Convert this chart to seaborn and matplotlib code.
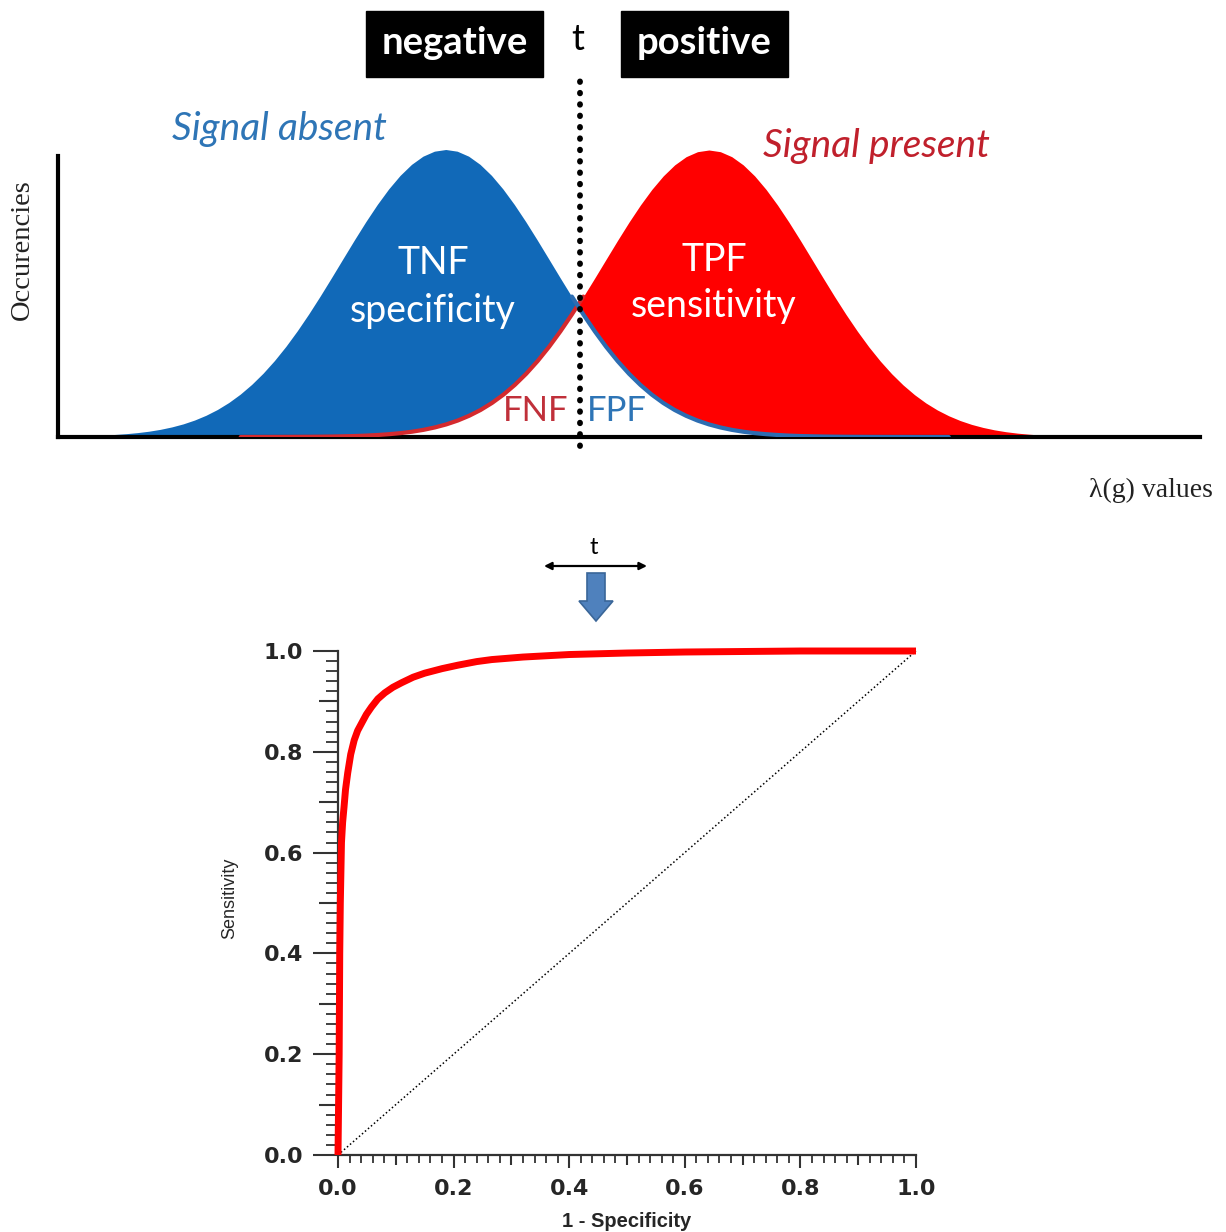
import numpy as np
import pandas as pd
import matplotlib
matplotlib.use("Agg")
import matplotlib.pyplot as plt
from matplotlib.patches import Rectangle, FancyArrow
from matplotlib.ticker import FixedLocator, MultipleLocator
import seaborn as sns

# ---------------- data ----------------
# top panel: occurrence curves over lambda(g) (arbitrary units, 0..10, step 0.1)
lam = np.round(np.arange(0, 10.001, 0.1), 1)
signal_absent = [
    0.0011, 0.0016, 0.0024, 0.0034, 0.0049, 0.0070, 0.0098, 0.0135, 0.0184, 0.0249,
    0.0333, 0.0439, 0.0573, 0.0739, 0.0941, 0.1185, 0.1475, 0.1814, 0.2204, 0.2647,
    0.3141, 0.3685, 0.4271, 0.4893, 0.5539, 0.6197, 0.6852, 0.7487, 0.8084, 0.8627,
    0.9098, 0.9482, 0.9767, 0.9941, 1.0000, 0.9941, 0.9767, 0.9482, 0.9098, 0.8627,
    0.8084, 0.7487, 0.6852, 0.6197, 0.5539, 0.4893, 0.4271, 0.3685, 0.3141, 0.2647,
    0.2204, 0.1814, 0.1475, 0.1185, 0.0941, 0.0739, 0.0573, 0.0439, 0.0333, 0.0249,
    0.0184, 0.0135, 0.0098, 0.0070, 0.0049, 0.0034, 0.0024, 0.0016, 0.0011, 0.0007,
    0.0005, 0.0003, 0.0002, 0.0001, 0.0001, 0.0, 0.0, 0.0, 0.0, 0.0,
    0.0, 0.0, 0.0, 0.0, 0.0, 0.0, 0.0, 0.0, 0.0, 0.0,
    0.0, 0.0, 0.0, 0.0, 0.0, 0.0, 0.0, 0.0, 0.0, 0.0, 0.0]
signal_present = [
    0.0, 0.0, 0.0, 0.0, 0.0, 0.0, 0.0, 0.0, 0.0, 0.0,
    0.0, 0.0, 0.0, 0.0, 0.0, 0.0, 0.0, 0.0001, 0.0001, 0.0002,
    0.0003, 0.0005, 0.0007, 0.0011, 0.0016, 0.0024, 0.0034, 0.0049, 0.0070, 0.0098,
    0.0135, 0.0184, 0.0249, 0.0333, 0.0439, 0.0573, 0.0739, 0.0941, 0.1185, 0.1475,
    0.1814, 0.2204, 0.2647, 0.3141, 0.3685, 0.4271, 0.4893, 0.5539, 0.6197, 0.6852,
    0.7487, 0.8084, 0.8627, 0.9098, 0.9482, 0.9767, 0.9941, 1.0000, 0.9941, 0.9767,
    0.9482, 0.9098, 0.8627, 0.8084, 0.7487, 0.6852, 0.6197, 0.5539, 0.4893, 0.4271,
    0.3685, 0.3141, 0.2647, 0.2204, 0.1814, 0.1475, 0.1185, 0.0941, 0.0739, 0.0573,
    0.0439, 0.0333, 0.0249, 0.0184, 0.0135, 0.0098, 0.0070, 0.0049, 0.0034, 0.0024,
    0.0016, 0.0011, 0.0007, 0.0005, 0.0003, 0.0002, 0.0001, 0.0001, 0.0, 0.0, 0.0]
threshold_t = 4.57

# bottom panel: ROC curve
fpr = [0.0, 0.001, 0.002, 0.003, 0.004, 0.006, 0.008, 0.0104, 0.013, 0.0168, 0.022, 0.028,
       0.034, 0.041, 0.049, 0.058, 0.069, 0.081, 0.095, 0.110, 0.130, 0.150, 0.180, 0.208,
       0.240, 0.266, 0.320, 0.40, 0.50, 0.60, 0.70, 0.80, 1.0]
tpr = [0.0, 0.10, 0.20, 0.40, 0.50, 0.62, 0.66, 0.69, 0.725, 0.758, 0.795, 0.823,
       0.842, 0.857, 0.874, 0.889, 0.905, 0.917, 0.928, 0.937, 0.948, 0.956, 0.965, 0.972,
       0.979, 0.983, 0.988, 0.993, 0.996, 0.998, 0.999, 1.0, 1.0]
chance_x = [0.0, 1.0]
chance_y = [0.0, 1.0]
roc_tick_labels = ["0.0", "", "0.2", "", "0.4", "", "0.6", "", "0.8", "", "1.0"]

# ---------------- style ----------------
sns.set_style("white")
plt.rcParams["font.family"] = ["Lato", "DejaVu Sans"]

W, H = 1226, 1232
fig = plt.figure(figsize=(W / 100, H / 100), dpi=100)

BLUE = "#1169b8"
RED = "#ff0000"
RED_LINE = "#d42a2e"
BLUE_LINE = "#2c6db2"

def fig_rect(x0, y0, x1, y1):
    """pixel box (top-left origin) -> figure fraction rect"""
    return [x0 / W, 1 - y1 / H, (x1 - x0) / W, (y1 - y0) / H]

# ---------------- top panel ----------------
ax1 = fig.add_axes(fig_rect(58, 150, 1200, 437))
df = pd.DataFrame({"lam": lam, "absent": signal_absent, "present": signal_present})
a = df["absent"].to_numpy()
p = df["present"].to_numpy()
ax1.fill_between(df["lam"], p, a, where=a >= p, interpolate=True, color=BLUE, lw=0, zorder=2)
ax1.fill_between(df["lam"], a, p, where=p >= a, interpolate=True, color=RED, lw=0, zorder=2)
left_part = df[(df["lam"] >= 1.6) & (df["lam"] <= 4.6)]
right_part = df[(df["lam"] >= 4.45) & (df["lam"] <= 7.8)]
sns.lineplot(data=left_part, x="lam", y="present", ax=ax1, color=RED_LINE, lw=3, zorder=3)
sns.lineplot(data=right_part, x="lam", y="absent", ax=ax1, color=BLUE_LINE, lw=3, zorder=3)
ax1.plot([threshold_t, threshold_t], [-0.03, 1.25], color="black", lw=4.2,
         linestyle=(0, (0.1, 1.85)), dash_capstyle="round", clip_on=False, zorder=5)
ax1.set_xlim(0, 10)
ax1.set_ylim(0, 1)
ax1.set_xticks([])
ax1.set_yticks([])
ax1.set_xlabel("")
ax1.set_ylabel("")
for s in ["top", "right"]:
    ax1.spines[s].set_visible(False)
for s in ["left", "bottom"]:
    ax1.spines[s].set_linewidth(3)
    ax1.spines[s].set_color("black")
ax1.spines["left"].set_bounds(0, 0.98)
ax1.patch.set_alpha(0)

# ---------------- ROC panel ----------------
ax2 = fig.add_axes(fig_rect(338, 651, 916, 1155))
sns.lineplot(x=chance_x, y=chance_y, ax=ax2, color="black", lw=1.1,
             linestyle=(0, (1, 1.6)), zorder=2)
sns.lineplot(x=fpr, y=tpr, ax=ax2, color="#ff0000", lw=5, sort=False, zorder=3)
for ln in ax2.lines:
    ln.set_clip_on(False)
    ln.set_solid_joinstyle("round")
    ln.set_solid_capstyle("butt")
ax2.set_xlim(0, 1)
ax2.set_ylim(0, 1)
for s in ["top", "right"]:
    ax2.spines[s].set_visible(False)
for s in ["left", "bottom"]:
    ax2.spines[s].set_linewidth(1.6)
    ax2.spines[s].set_color("#333333")

ticks = np.round(np.arange(0, 1.01, 0.1), 1)
for axis in (ax2.xaxis, ax2.yaxis):
    axis.set_major_locator(FixedLocator(ticks))
    axis.set_minor_locator(MultipleLocator(0.02))
ax2.set_xticklabels(roc_tick_labels)
ax2.set_yticklabels(roc_tick_labels)
ax2.tick_params(axis="y", which="major", direction="out", length=18, width=1.5,
                color="#333333", pad=7, left=True)
ax2.tick_params(axis="y", which="minor", direction="out", length=9, width=1.3,
                color="#333333", left=True)
ax2.tick_params(axis="x", which="major", direction="out", length=9.5, width=1.5,
                color="#333333", pad=8, bottom=True)
ax2.tick_params(axis="x", which="minor", direction="out", length=5.5, width=1.3,
                color="#333333", bottom=True)
for lab in ax2.get_xticklabels() + ax2.get_yticklabels():
    lab.set_fontfamily("DejaVu Sans")
    lab.set_fontweight("bold")
    lab.set_fontsize(16)
# mid-length ticks at odd tenths
for i, tk in enumerate(ax2.yaxis.get_major_ticks()):
    if i % 2 == 1:
        tk.tick1line.set_markersize(14)
for i, tk in enumerate(ax2.xaxis.get_major_ticks()):
    if i % 2 == 1:
        tk.tick1line.set_markersize(7.5)

ax2.set_ylabel("Sensitivity", fontsize=13, family="Liberation Sans")
ax2.set_xlabel("1 - Specificity", fontsize=14.5, family="Liberation Sans", fontweight="bold")
ax2.yaxis.set_label_coords(-0.172, 0.51)
ax2.xaxis.set_label_coords(0.5, -0.113)

# ---------------- annotation overlay (pixel coordinates) ----------------
ov = fig.add_axes([0, 0, 1, 1])
ov.set_xlim(0, W)
ov.set_ylim(H, 0)
ov.axis("off")
ov.patch.set_alpha(0)

ov.add_patch(Rectangle((366, 11), 177, 66, color="black"))
ov.add_patch(Rectangle((621, 11), 167, 66, color="black"))
ov.text(454.5, 43, "negative", color="white", fontsize=27.5, fontweight="bold",
        ha="center", va="center")
ov.text(704.5, 43, "positive", color="white", fontsize=27.5, fontweight="bold",
        ha="center", va="center")
ov.text(578, 39, "t", color="black", fontsize=26, ha="center", va="center")

ov.text(279, 129, "Signal absent", color="#2e75b6", fontsize=28, style="italic",
        ha="center", va="center")
ov.text(876, 146, "Signal present", color="#c0202c", fontsize=28, style="italic",
        ha="center", va="center")
ov.text(433, 263, "TNF", color="white", fontsize=27, ha="center", va="center")
ov.text(433, 311, "specificity", color="white", fontsize=27, ha="center", va="center")
ov.text(714, 260, "TPF", color="white", fontsize=27, ha="center", va="center")
ov.text(714, 306, "sensitivity", color="white", fontsize=27, ha="center", va="center")
ov.text(536, 411, "FNF", color="#c0303a", fontsize=25, ha="center", va="center")
ov.text(617, 411, "FPF", color="#2e75b6", fontsize=25, ha="center", va="center")

ov.text(22, 250, "Occurencies", color="#222222", fontsize=20.5, family="Liberation Serif",
        rotation=90, ha="center", va="center")
ov.text(1151, 490, "λ(g) values", color="#222222", fontsize=20, family="Liberation Serif",
        ha="center", va="center")

# threshold selector arrow
ov.text(594, 548, "t", color="black", fontsize=17, ha="center", va="center")
ov.annotate("", xy=(647, 566), xytext=(544, 566),
            arrowprops=dict(arrowstyle="<|-|>", lw=1.6, color="black", mutation_scale=11,
                            shrinkA=0, shrinkB=0))
ov.add_patch(FancyArrow(596, 573, 0, 48, width=18, head_width=34, head_length=20,
                        length_includes_head=True, fc="#4f81bd", ec="#3a6698", lw=1.2))

fig.savefig("out.png", dpi=100)
